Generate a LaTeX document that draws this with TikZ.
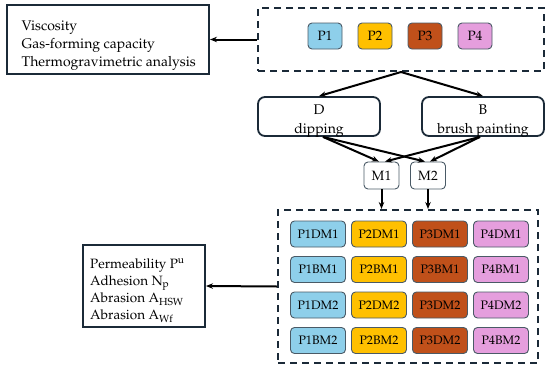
\documentclass[tikz,border=0pt]{standalone}
\usepackage[T1]{fontenc}
\usepackage{mathpazo}
\usetikzlibrary{arrows.meta}
\definecolor{navy}{HTML}{1B2A38}
\definecolor{cellline}{HTML}{4A5A66}
\definecolor{cblue}{HTML}{8ECFEA}
\definecolor{cgold}{HTML}{FFC000}
\definecolor{cbrown}{HTML}{C0501A}
\definecolor{cpink}{HTML}{E59EDD}
\tikzset{
  mainbox/.style={draw=navy,line width=2pt,inner sep=0pt},
  boxtext/.style={anchor=west,align=left,inner sep=0pt},
  groupbox/.style={draw=navy,line width=2pt,dash pattern=on 7pt off 5pt,inner sep=0pt},
  roundbox/.style={draw=navy,line width=1.8pt,rounded corners=7pt,minimum width=122pt,minimum height=39pt,inner sep=0pt},
  rtext/.style={align=center,inner sep=0pt,font=\fontsize{14}{18.5}\selectfont},
  mbox/.style={draw=cellline,line width=0.9pt,rounded corners=4pt,minimum width=35pt,minimum height=27pt,inner sep=0pt,font=\fontsize{13.5}{15}\selectfont},
  pbox/.style={draw=cellline,line width=0.9pt,rounded corners=4pt,minimum width=34pt,minimum height=26pt,inner sep=0pt,font=\fontsize{13.5}{15}\selectfont},
  cell/.style={draw=cellline,line width=0.9pt,rounded corners=4pt,minimum width=55pt,minimum height=26pt,inner sep=0pt,font=\fontsize{12.3}{14}\selectfont},
  cb/.style={cell,fill=cblue}, cg/.style={cell,fill=cgold},
  cr/.style={cell,fill=cbrown}, cp/.style={cell,fill=cpink},
  arr/.style={-{Stealth[length=7pt,width=5.5pt]},line width=2pt,draw=black},
}
\begin{document}
\begin{tikzpicture}[x=1pt,y=-1pt]
\useasboundingbox (0,0) rectangle (550,373);
% top-left box
\node[mainbox,minimum width=202pt,minimum height=69pt] (tl) at (108,39.5) {};
\node[boxtext,font=\fontsize{14}{18}\selectfont] (tltext) at (21.5,45.5)
  {Viscosity\\Gas-forming capacity\\Thermogravimetric analysis};
% top group
\node[groupbox,minimum width=286pt,minimum height=63pt] (top) at (401,39.5) {};
\node[pbox,fill=cblue] (p1) at (325,36) {P1};
\node[pbox,fill=cgold] (p2) at (375,36) {P2};
\node[pbox,fill=cbrown] (p3) at (425,36) {P3};
\node[pbox,fill=cpink] (p4) at (475,36) {P4};
% D and B
\node[roundbox] (D) at (319,116.5) {};
\node[rtext] (Dtext) at (319,121) {D\\dipping};
\node[roundbox] (B) at (483,116.5) {};
\node[rtext] (Btext) at (483,121) {B\\brush painting};
% M
\node[mbox] (M1) at (381.5,175.5) {M1};
\node[mbox] (M2) at (428,175.5) {M2};
% bottom group
\node[groupbox,minimum width=260pt,minimum height=153pt] (bot) at (408,286.5) {};
\node[cb] (c11) at (318,234) {P1DM1};
\node[cg] (c12) at (379,234) {P2DM1};
\node[cr] (c13) at (440,234) {P3DM1};
\node[cp] (c14) at (501,234) {P4DM1};
\node[cb] (c21) at (318,269.5) {P1BM1};
\node[cg] (c22) at (379,269.5) {P2BM1};
\node[cr] (c23) at (440,269.5) {P3BM1};
\node[cp] (c24) at (501,269.5) {P4BM1};
\node[cb] (c31) at (318,305) {P1DM2};
\node[cg] (c32) at (379,305) {P2DM2};
\node[cr] (c33) at (440,305) {P3DM2};
\node[cp] (c34) at (501,305) {P4DM2};
\node[cb] (c41) at (318,340.5) {P1BM2};
\node[cg] (c42) at (379,340.5) {P2BM2};
\node[cr] (c43) at (440,340.5) {P3DM2};
\node[cp] (c44) at (501,340.5) {P4BM2};
% bottom-left box
\node[mainbox,minimum width=122pt,minimum height=82pt] (bl) at (144,286) {};
\node[boxtext,font=\fontsize{13.5}{17}\selectfont] (bltext) at (90,290.5)
  {Permeability P\textsuperscript{u}\\Adhesion N\textsubscript{p}\\Abrasion A\textsubscript{HSW}\\Abrasion A\textsubscript{Wf}};
% connectors
\draw[arr] (top.west) -- (tl.east);
\draw[arr] (top.south) -- (D.north);
\draw[arr] (top.south) -- (B.north);
\draw[arr] ([xshift=4pt]D.south) -- ([xshift=-2.5pt]M1.north);
\draw[arr] ([xshift=4pt]D.south) -- ([xshift=-3pt]M2.north);
\draw[arr] ([xshift=-3pt]B.south) -- ([xshift=3.5pt]M1.north);
\draw[arr] ([xshift=-3pt]B.south) -- ([xshift=2pt]M2.north);
\draw[arr] (M1.south) -- (M1.south |- bot.north);
\draw[arr] (M2.south) -- (M2.south |- bot.north);
\draw[arr] (bot.west) -- (bl.east);
\end{tikzpicture}
\end{document}
